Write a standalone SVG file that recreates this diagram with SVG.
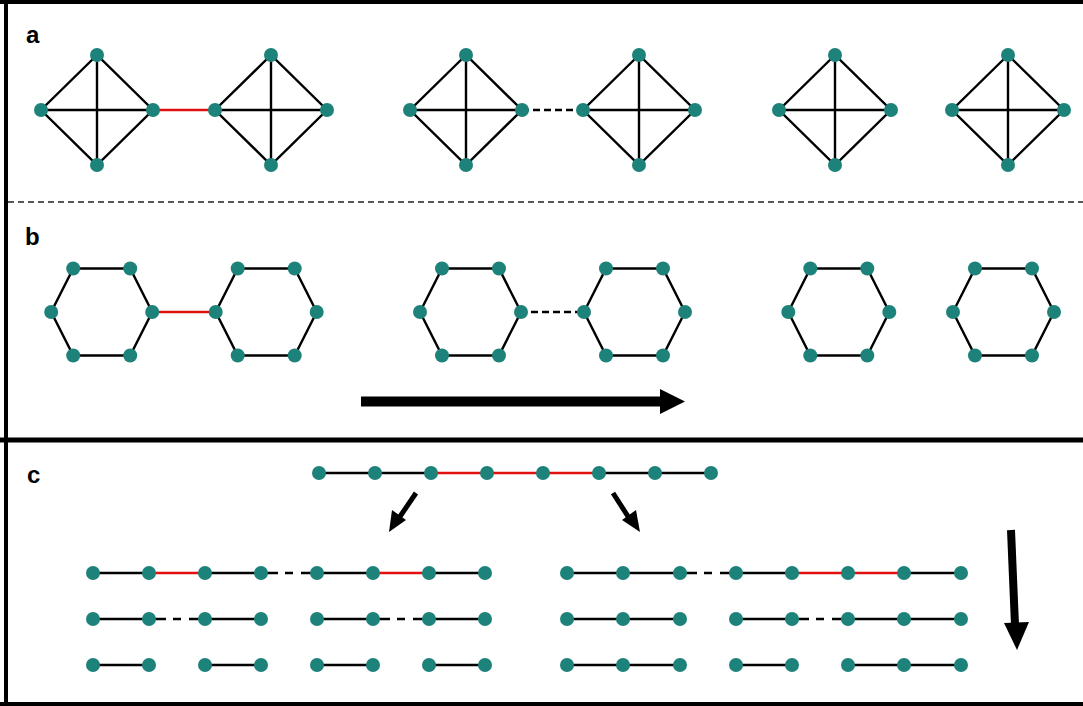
<svg xmlns="http://www.w3.org/2000/svg" width="1083" height="706" viewBox="0 0 1083 706">
<style>
.n{fill:#1d827a}
.e{stroke:#000;stroke-width:2.4;fill:none}
.r{stroke:#e01010;stroke-width:2.4;fill:none}
.d{stroke:#000;stroke-width:2.4;stroke-dasharray:7,4;fill:none}
.dc{stroke:#000;stroke-width:2.4;stroke-dasharray:17,7,8,8,16;fill:none}
.frame{stroke:#000;stroke-width:4;fill:none}
.lbl{font-family:"Liberation Sans",Arial,sans-serif;font-weight:bold;font-size:24px;fill:#000}
</style>
<defs>
<g id="tet">
<path class="e" d="M0,-55L-56,0L0,55L56,0Z M-56,0H56 M0,-55V55"/>
<circle class="n" cx="0" cy="-55" r="7"/>
<circle class="n" cx="-56" cy="0" r="7"/>
<circle class="n" cx="56" cy="0" r="7"/>
<circle class="n" cx="0" cy="55" r="7"/>
</g>
<g id="hex">
<path class="e" d="M-28.5,-43.5H28.5L50.5,0L28.5,43.5H-28.5L-50.5,0Z"/>
<circle class="n" cx="-28.5" cy="-43.5" r="7"/>
<circle class="n" cx="28.5" cy="-43.5" r="7"/>
<circle class="n" cx="-50.5" cy="0" r="7"/>
<circle class="n" cx="50.5" cy="0" r="7"/>
<circle class="n" cx="-28.5" cy="43.5" r="7"/>
<circle class="n" cx="28.5" cy="43.5" r="7"/>
</g>
<circle id="nd" class="n" r="7"/>
</defs>

<g id="frame">
<line class="frame" x1="0" y1="2" x2="1083" y2="2"/>
<line class="frame" x1="6" y1="0" x2="6" y2="706"/>
<line x1="0" y1="440" x2="1083" y2="440" stroke="#000" stroke-width="5"/>
<line class="frame" x1="0" y1="704" x2="1083" y2="704"/>
<line x1="8" y1="202" x2="1083" y2="202" stroke="#222" stroke-width="1.6" stroke-dasharray="6,4"/>
</g>

<g id="labels">
<text class="lbl" x="26" y="43">a</text>
<text class="lbl" x="25" y="245">b</text>
<text class="lbl" x="27" y="483">c</text>
</g>

<g id="connectors">
<line class="r" x1="152" y1="110" x2="215" y2="110"/>
<line class="d" x1="522" y1="110" x2="584" y2="110"/>
<line class="r" x1="152" y1="312" x2="216" y2="312"/>
<line class="d" x1="520" y1="312" x2="584" y2="312"/>
<path d="M361,396.5H660V389L685,401.5L660,414V406.5H361Z" fill="#000"/>
<line class="e" x1="319" y1="473" x2="431" y2="473"/>
<line class="r" x1="431" y1="473" x2="599" y2="473"/>
<line class="e" x1="599" y1="473" x2="711" y2="473"/>
<line x1="416" y1="493" x2="399" y2="518" stroke="#000" stroke-width="5"/>
<polygon points="389,532 392,510 406,520" fill="#000"/>
<line x1="613" y1="493" x2="629" y2="518" stroke="#000" stroke-width="5"/>
<polygon points="640,532 622,520 636,510" fill="#000"/>
<line x1="1011" y1="530" x2="1015" y2="625" stroke="#000" stroke-width="8"/>
<polygon points="1004,623 1029,622 1017,650" fill="#000"/>
<line class="e" x1="93" y1="573" x2="149" y2="573"/>
<line class="r" x1="149" y1="573" x2="205" y2="573"/>
<line class="e" x1="205" y1="573" x2="261" y2="573"/>
<line class="dc" x1="261" y1="573" x2="317" y2="573"/>
<line class="e" x1="317" y1="573" x2="373" y2="573"/>
<line class="r" x1="373" y1="573" x2="429" y2="573"/>
<line class="e" x1="429" y1="573" x2="485" y2="573"/>
<line class="e" x1="93" y1="619" x2="149" y2="619"/>
<line class="dc" x1="149" y1="619" x2="205" y2="619"/>
<line class="e" x1="205" y1="619" x2="261" y2="619"/>
<line class="e" x1="317" y1="619" x2="373" y2="619"/>
<line class="dc" x1="373" y1="619" x2="429" y2="619"/>
<line class="e" x1="429" y1="619" x2="485" y2="619"/>
<line class="e" x1="93" y1="665" x2="149" y2="665"/>
<line class="e" x1="205" y1="665" x2="261" y2="665"/>
<line class="e" x1="317" y1="665" x2="373" y2="665"/>
<line class="e" x1="429" y1="665" x2="485" y2="665"/>
<line class="e" x1="567" y1="573" x2="680" y2="573"/>
<line class="dc" x1="680" y1="573" x2="736" y2="573"/>
<line class="e" x1="736" y1="573" x2="792" y2="573"/>
<line class="r" x1="792" y1="573" x2="904" y2="573"/>
<line class="e" x1="904" y1="573" x2="961" y2="573"/>
<line class="e" x1="567" y1="619" x2="680" y2="619"/>
<line class="e" x1="736" y1="619" x2="792" y2="619"/>
<line class="dc" x1="792" y1="619" x2="848" y2="619"/>
<line class="e" x1="848" y1="619" x2="961" y2="619"/>
<line class="e" x1="567" y1="665" x2="680" y2="665"/>
<line class="e" x1="736" y1="665" x2="792" y2="665"/>
<line class="e" x1="848" y1="665" x2="961" y2="665"/>
</g>

<g id="a-tet1"><use href="#tet" x="97" y="110"/></g>
<g id="a-tet2"><use href="#tet" x="271" y="110"/></g>
<g id="a-tet3"><use href="#tet" x="466" y="110"/></g>
<g id="a-tet4"><use href="#tet" x="639" y="110"/></g>
<g id="a-tet5"><use href="#tet" x="835" y="110"/></g>
<g id="a-tet6"><use href="#tet" x="1008" y="110"/></g>

<g id="b-hex1"><use href="#hex" x="101.7" y="312"/></g>
<g id="b-hex2"><use href="#hex" x="266.2" y="312"/></g>
<g id="b-hex3"><use href="#hex" x="470.5" y="312"/></g>
<g id="b-hex4"><use href="#hex" x="634.5" y="312"/></g>
<g id="b-hex5"><use href="#hex" x="838.8" y="312"/></g>
<g id="b-hex6"><use href="#hex" x="1003.5" y="312"/></g>

<g id="c-top">
<use href="#nd" x="319" y="473"/><use href="#nd" x="375" y="473"/><use href="#nd" x="431" y="473"/><use href="#nd" x="487" y="473"/>
<use href="#nd" x="543" y="473"/><use href="#nd" x="599" y="473"/><use href="#nd" x="655" y="473"/><use href="#nd" x="711" y="473"/>
</g>
<g id="c-left">
<use href="#nd" x="93" y="573"/><use href="#nd" x="149" y="573"/><use href="#nd" x="205" y="573"/><use href="#nd" x="261" y="573"/>
<use href="#nd" x="317" y="573"/><use href="#nd" x="373" y="573"/><use href="#nd" x="429" y="573"/><use href="#nd" x="485" y="573"/>
<use href="#nd" x="93" y="619"/><use href="#nd" x="149" y="619"/><use href="#nd" x="205" y="619"/><use href="#nd" x="261" y="619"/>
<use href="#nd" x="317" y="619"/><use href="#nd" x="373" y="619"/><use href="#nd" x="429" y="619"/><use href="#nd" x="485" y="619"/>
<use href="#nd" x="93" y="665"/><use href="#nd" x="149" y="665"/><use href="#nd" x="205" y="665"/><use href="#nd" x="261" y="665"/>
<use href="#nd" x="317" y="665"/><use href="#nd" x="373" y="665"/><use href="#nd" x="429" y="665"/><use href="#nd" x="485" y="665"/>
</g>
<g id="c-right">
<use href="#nd" x="567" y="573"/><use href="#nd" x="623" y="573"/><use href="#nd" x="680" y="573"/><use href="#nd" x="736" y="573"/>
<use href="#nd" x="792" y="573"/><use href="#nd" x="848" y="573"/><use href="#nd" x="904" y="573"/><use href="#nd" x="961" y="573"/>
<use href="#nd" x="567" y="619"/><use href="#nd" x="623" y="619"/><use href="#nd" x="680" y="619"/><use href="#nd" x="736" y="619"/>
<use href="#nd" x="792" y="619"/><use href="#nd" x="848" y="619"/><use href="#nd" x="904" y="619"/><use href="#nd" x="961" y="619"/>
<use href="#nd" x="567" y="665"/><use href="#nd" x="623" y="665"/><use href="#nd" x="680" y="665"/><use href="#nd" x="736" y="665"/>
<use href="#nd" x="792" y="665"/><use href="#nd" x="848" y="665"/><use href="#nd" x="904" y="665"/><use href="#nd" x="961" y="665"/>
</g>
</svg>
